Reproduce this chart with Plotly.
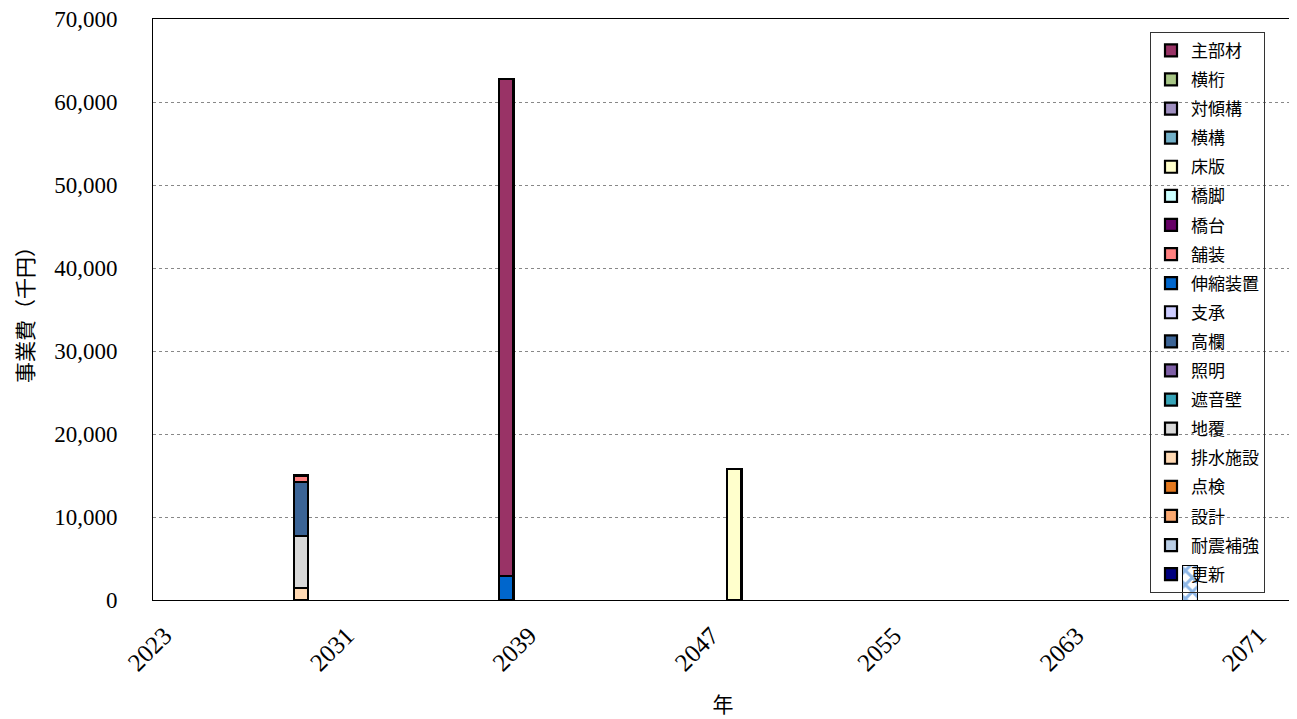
import plotly.graph_objects as go

# ---- data ----
years = list(range(2023, 2073))
tick_years = [2023, 2031, 2039, 2047, 2055, 2063, 2071]
cost_years = [2029, 2038, 2048]

series_names = ["主部材", "横桁", "対傾構", "横構", "床版", "橋脚", "橋台", "舗装",
                "伸縮装置", "支承", "高欄", "照明", "遮音壁", "地覆", "排水施設",
                "点検", "設計", "耐震補強", "更新"]
series_colors = ["#993366", "#A8C685", "#9F8FC0", "#72B0C8", "#FFFFCC", "#CCFFFF",
                 "#660066", "#FF8080", "#0066CC", "#CCCCFF", "#3B6496", "#7E5FA6",
                 "#35A3B8", "#D9D9D9", "#FFD9B3", "#E4791F", "#F9A870", "#B9CDE5",
                 "#000080"]

v_shubuzai = [0, 59900, 0]
v_yokogeta = [0, 0, 0]
v_taikeikou = [0, 0, 0]
v_yokokou = [0, 0, 0]
v_shoban = [0, 0, 15800]
v_kyoukyaku = [0, 0, 0]
v_kyoudai = [0, 0, 0]
v_hosou = [800, 0, 0]
v_shinshuku = [0, 2900, 0]
v_shishou = [0, 0, 0]
v_kouran = [6500, 0, 0]
v_shoumei = [0, 0, 0]
v_shaonheki = [0, 0, 0]
v_jifuku = [6300, 0, 0]
v_haisui = [1400, 0, 0]
v_tenken = [0, 0, 0]
v_sekkei = [0, 0, 0]
v_taishin = [0, 0, 0]
v_koushin = [0, 0, 0]

series_values = [v_shubuzai, v_yokogeta, v_taikeikou, v_yokokou, v_shoban,
                 v_kyoukyaku, v_kyoudai, v_hosou, v_shinshuku, v_shishou,
                 v_kouran, v_shoumei, v_shaonheki, v_jifuku, v_haisui,
                 v_tenken, v_sekkei, v_taishin, v_koushin]

# stacking order (bottom to top) in the picture
stack_order = ["排水施設", "地覆", "高欄", "舗装", "伸縮装置", "主部材", "床版"]

# selected-marker like hatched bar
mark_year = [2068]
mark_value = [4200]

fig = go.Figure()

bar_w = 0.62
traces = {}
for name, color, vals in zip(series_names, series_colors, series_values):
    traces[name] = dict(name=name, color=color, vals=vals)

order = stack_order + [n for n in series_names if n not in stack_order]
for name in order:
    t = traces[name]
    idx = series_names.index(name)
    fig.add_trace(go.Bar(
        x=cost_years, y=t["vals"], name=name,
        marker=dict(color=t["color"], line=dict(color="black", width=2.2)),
        width=bar_w, legendrank=idx + 1, legendgroup="g%d" % idx,
    ))

fig.add_trace(go.Bar(
    x=mark_year, y=mark_value, showlegend=False, width=0.65,
    marker=dict(color="white", line=dict(color="black", width=1),
                pattern=dict(shape="x", fgcolor="#1E6FD0", bgcolor="white",
                             size=10, solidity=0.5)),
))

fig.update_layout(
    width=1289, height=711,
    barmode="stack",
    plot_bgcolor="white", paper_bgcolor="white",
    margin=dict(l=145, r=4, t=11, b=119),
    showlegend=True,
    legend=dict(
        x=(1150 - 153) / 1140, y=0.978, xanchor="left", yanchor="top",
        bgcolor="rgba(255,255,255,0)", bordercolor="#333333", borderwidth=1,
        font=dict(family="Noto Sans CJK JP", size=17, color="black"),
        traceorder="grouped", tracegroupgap=4,
        itemwidth=30,
    ),
    font=dict(family="Liberation Serif", color="black"),
)

fig.update_xaxes(
    range=[2022.5, 2072.5], automargin=False, ticklabeloverflow="allow",
    tickmode="array", tickvals=tick_years, ticktext=[str(y) for y in tick_years],
    tickangle=-45, tickfont=dict(family="Liberation Serif", size=25),
    showgrid=False, showline=True, linecolor="black", linewidth=1, mirror=True,
    ticks="", ticklabelstandoff=10,
    title=dict(text="年", font=dict(family="Noto Sans CJK JP", size=21), standoff=22),
)
fig.update_yaxes(
    range=[0, 70000], tickvals=list(range(0, 70001, 10000)), automargin=False,
    ticklabeloverflow="allow",
    tickformat=",d", tickfont=dict(family="Liberation Serif", size=23),
    showgrid=True, gridcolor="#888888", griddash="dot", gridwidth=1,
    showline=True, linecolor="black", linewidth=1, mirror=True,
    ticks="", ticklabelstandoff=30, zeroline=False,
    title=dict(text="事業費（千円）", font=dict(family="Noto Sans CJK JP", size=21), standoff=14),
)

fig.write_html("out.html")
